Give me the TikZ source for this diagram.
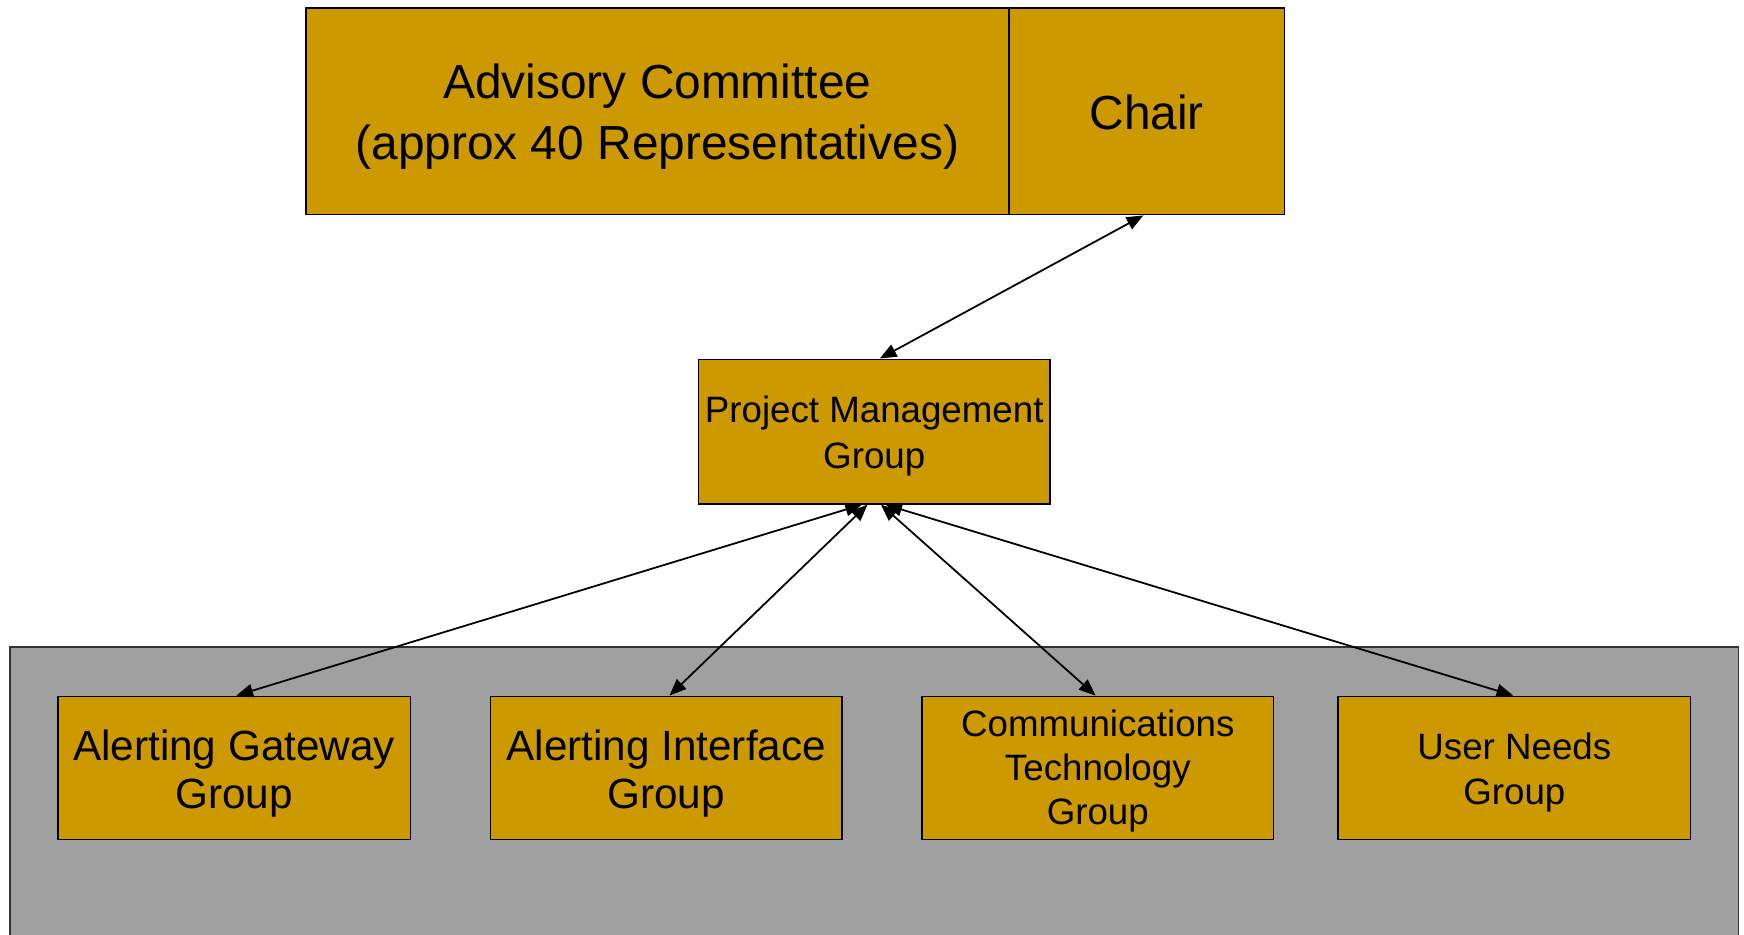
\documentclass[tikz,border=0pt]{standalone}
\usepackage{fontspec}
\setmainfont{Liberation Sans}
\usetikzlibrary{arrows.meta}
\definecolor{gold}{HTML}{CC9900}
\definecolor{panelgray}{HTML}{A0A0A0}
\begin{document}
\begin{tikzpicture}[x=1pt,y=-1pt,
  box/.style={draw=black,line width=1.3pt,fill=gold,inner sep=0pt},
  txt/.style={inner sep=0pt,align=center,text=black},
  link/.style={line width=1.6pt,{Triangle[length=15pt,width=12pt]}-{Triangle[length=15pt,width=12pt]}}]
\useasboundingbox (0,0) rectangle (1568,840);
\clip (0,0) rectangle (1568,840);
\fill[white] (0,0) rectangle (1568,840);
% container
\draw[line width=1.5pt,draw=black!80,fill=panelgray] (9,860) -- (9,582) -- (1563,582) -- (1563,860);
% top boxes
\node[box,minimum width=632pt,minimum height=186pt] (adv) at (591,100) {};
\node[txt,font=\fontsize{43}{55}\selectfont] (advt) at (591,105) {Advisory Committee\\(approx 40 Representatives)};
\node[box,minimum width=248pt,minimum height=186pt] (chair) at (1031,100) {};
\node[txt,font=\fontsize{43}{55}\selectfont] (chairt) at (1031,101) {Chair};
\node[box,minimum width=316pt,minimum height=130pt] (pmg) at (786,388) {};
\node[txt,font=\fontsize{33}{41}\selectfont] (pmgt) at (786,392) {Project Management\\Group};
% group boxes
\node[box,minimum width=317pt,minimum height=129pt] (ag) at (210.5,690.5) {};
\node[txt,font=\fontsize{38}{44}\selectfont] (agt) at (210.5,695.5) {Alerting Gateway\\Group};
\node[box,minimum width=316pt,minimum height=129pt] (ai) at (599,690.5) {};
\node[txt,font=\fontsize{38}{44}\selectfont] (ait) at (599,695.5) {Alerting Interface\\Group};
\node[box,minimum width=316pt,minimum height=129pt] (ct) at (987,690.5) {};
\node[txt,font=\fontsize{33}{39.5}\selectfont] (ctt) at (987,693.5) {Communications\\Technology\\Group};
\node[box,minimum width=317pt,minimum height=129pt] (un) at (1361.5,690.5) {};
\node[txt,font=\fontsize{33}{41}\selectfont] (unt) at (1361.5,694.5) {User Needs\\Group};
% connectors
\draw[link] ([xshift=-3pt]chair.south) -- ([xshift=5pt]pmg.north);
\draw[link] ([xshift=-11pt]pmg.south) -- ([xshift=2pt]ag.north);
\draw[link] ([xshift=-6pt]pmg.south) -- ([xshift=3pt]ai.north);
\draw[link] ([xshift=6pt]pmg.south) -- ([xshift=-2pt]ct.north);
\draw[link] ([xshift=10pt]pmg.south) -- ([xshift=-1pt]un.north);
\end{tikzpicture}
\end{document}
